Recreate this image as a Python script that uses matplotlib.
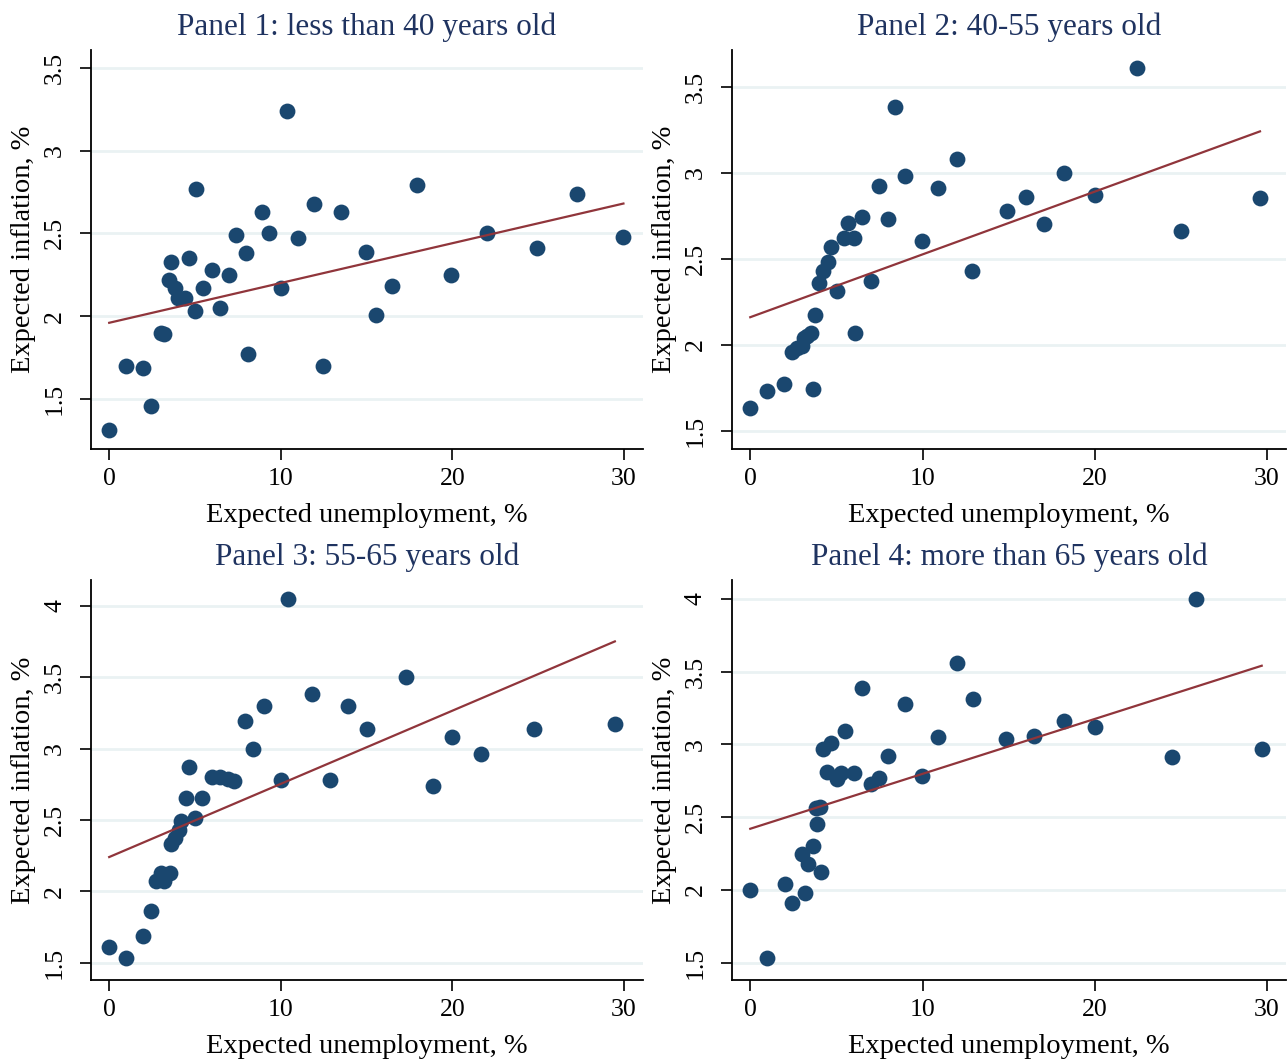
import matplotlib
matplotlib.use("Agg")
import matplotlib.pyplot as plt

# Panel titles
TITLES = [
    "Panel 1: less than 40 years old",
    "Panel 2: 40-55 years old",
    "Panel 3: 55-65 years old",
    "Panel 4: more than 65 years old",
]

# Panel 1 data (expected unemployment, expected inflation)
x1 = [0, 0.96, 1.98, 2.43, 3.02, 3.22, 3.60, 3.47, 3.81, 4.01, 4.41, 4.66, 5.06,
      4.99, 5.45, 5.99, 6.45, 6.97, 7.41, 7.97, 8.09, 8.90, 9.30, 9.99, 10.36,
      10.98, 11.94, 12.48, 13.48, 14.98, 15.54, 16.46, 17.91, 19.93, 22.03,
      24.92, 27.23, 29.96]
y1 = [1.31, 1.70, 1.69, 1.46, 1.90, 1.89, 2.33, 2.22, 2.17, 2.11, 2.11, 2.35, 2.77,
      2.03, 2.17, 2.28, 2.05, 2.25, 2.49, 2.38, 1.77, 2.63, 2.50, 2.17, 3.24,
      2.47, 2.68, 1.70, 2.63, 2.39, 2.01, 2.18, 2.79, 2.25, 2.50,
      2.41, 2.74, 2.48]

# Panel 2 data
x2 = [0, 0.95, 1.97, 3.62, 2.44, 2.69, 3.00, 3.10, 3.30, 3.52, 3.77, 4.01, 4.22,
      4.49, 4.68, 5.01, 5.42, 6.00, 5.67, 6.48, 6.10, 7.01, 7.45, 7.99, 8.38,
      9.00, 9.99, 10.88, 12.00, 12.89, 14.88, 15.99, 17.03, 18.23, 19.99,
      22.47, 25.02, 29.59]
y2 = [1.63, 1.73, 1.77, 1.74, 1.96, 1.98, 1.99, 2.04, 2.05, 2.07, 2.17, 2.36, 2.43,
      2.48, 2.57, 2.31, 2.62, 2.62, 2.71, 2.74, 2.07, 2.37, 2.92, 2.73, 3.38,
      2.98, 2.60, 2.91, 3.08, 2.43, 2.78, 2.86, 2.70, 3.00, 2.87,
      3.61, 2.66, 2.85]

# Panel 3 data
x3 = [0, 0.96, 1.98, 2.43, 2.70, 3.02, 3.22, 3.54, 3.62, 3.85, 4.06, 4.16, 4.47,
      4.66, 5.01, 5.43, 5.99, 6.45, 6.95, 7.26, 7.92, 8.36, 8.99, 9.99, 10.40,
      11.82, 12.88, 13.94, 15.00, 17.31, 18.89, 19.99, 21.68, 24.76, 29.46]
y3 = [1.61, 1.53, 1.69, 1.86, 2.07, 2.13, 2.07, 2.13, 2.33, 2.37, 2.43, 2.49, 2.65,
      2.87, 2.51, 2.65, 2.80, 2.80, 2.79, 2.77, 3.19, 3.00, 3.30, 2.78, 4.05,
      3.38, 2.78, 3.30, 3.14, 3.50, 2.74, 3.08, 2.96, 3.14, 3.17]

# Panel 4 data
x4 = [0, 0.95, 1.99, 2.44, 3.17, 3.00, 3.33, 4.12, 3.62, 3.89, 3.83, 4.03, 4.24,
      4.70, 4.45, 5.01, 5.28, 5.52, 6.00, 6.46, 7.00, 7.45, 8.01, 8.96, 9.99,
      10.88, 11.98, 12.93, 14.86, 16.45, 18.23, 20.00, 24.46, 25.90, 29.69]
y4 = [2.00, 1.53, 2.04, 1.91, 1.98, 2.25, 2.18, 2.12, 2.30, 2.45, 2.56, 2.57, 2.97,
      3.01, 2.81, 2.76, 2.80, 3.09, 2.80, 3.39, 2.73, 2.77, 2.92, 3.28, 2.78,
      3.05, 3.56, 3.31, 3.04, 3.06, 3.16, 3.12, 2.91, 4.00, 2.97]

# Fitted line: y at min(x) and at max(x)
fit1 = [1.96, 2.68]
fit2 = [2.16, 3.24]
fit3 = [2.24, 3.75]
fit4 = [2.42, 3.54]

# y ticks per panel
yticks1 = [1.5, 2, 2.5, 3, 3.5]
yticks2 = [1.5, 2, 2.5, 3, 3.5]
yticks3 = [1.5, 2, 2.5, 3, 3.5, 4]
yticks4 = [1.5, 2, 2.5, 3, 3.5, 4]
xticks = [0, 10, 20, 30]

DOT = "#1a476f"
LINE = "#90353b"
GRID = "#eaf2f3"
TITLE_COLOR = "#1f3360"

W, H = 1287, 1063


def fmt(v):
    return "%g" % v


def draw_panel(fig, box, x, y, fit, yticks, ylim, title):
    """
    One scatter panel with fitted line
    box = (left, top, right, bottom) in pixels
    """
    l, t, r, b = box
    ax = fig.add_axes([l / W, 1 - b / H, (r - l) / W, (b - t) / H])

    ax.scatter(x, y, s=130, color=DOT, linewidths=0, zorder=3)
    ax.plot([min(x), max(x)], fit, color=LINE, lw=1.6, zorder=4)

    ax.set_xlim(-1.06, 31.1)
    ax.set_ylim(*ylim)
    ax.set_xticks(xticks)
    ax.set_xticklabels([fmt(v) for v in xticks])
    ax.set_yticks(yticks)
    ax.set_yticklabels([fmt(v) for v in yticks], rotation=90, va="center")

    for v in yticks:
        ax.axhline(v, color=GRID, lw=2, zorder=1)

    for side in ["top", "right"]:
        ax.spines[side].set_visible(False)
    for side in ["left", "bottom"]:
        ax.spines[side].set_linewidth(1.3)

    ax.tick_params(direction="out", length=8, width=1.2, labelsize=18.5)
    ax.tick_params(axis="x", pad=6)
    ax.tick_params(axis="y", pad=10)

    ax.set_title(title, fontsize=22.5, color=TITLE_COLOR, pad=11)
    ax.set_xlabel("Expected unemployment, %", fontsize=20.5, labelpad=9)
    ax.set_ylabel("Expected inflation, %", fontsize=20.5, labelpad=6)
    return ax


def main():
    plt.rcParams["font.family"] = ["Liberation Serif", "DejaVu Serif"]

    fig = plt.figure(figsize=(W / 100, H / 100), dpi=100)

    draw_panel(fig, (91, 50, 643, 449), x1, y1, fit1, yticks1, (1.198, 3.607), TITLES[0])
    draw_panel(fig, (732, 50, 1286, 449), x2, y2, fit2, yticks2, (1.394, 3.713), TITLES[1])
    draw_panel(fig, (91, 580, 643, 980), x3, y3, fit3, yticks3, (1.379, 4.18), TITLES[2])
    draw_panel(fig, (732, 580, 1286, 980), x4, y4, fit4, yticks4, (1.381, 4.129), TITLES[3])

    fig.savefig("out.png", dpi=100)


if __name__ == "__main__":
    main()
